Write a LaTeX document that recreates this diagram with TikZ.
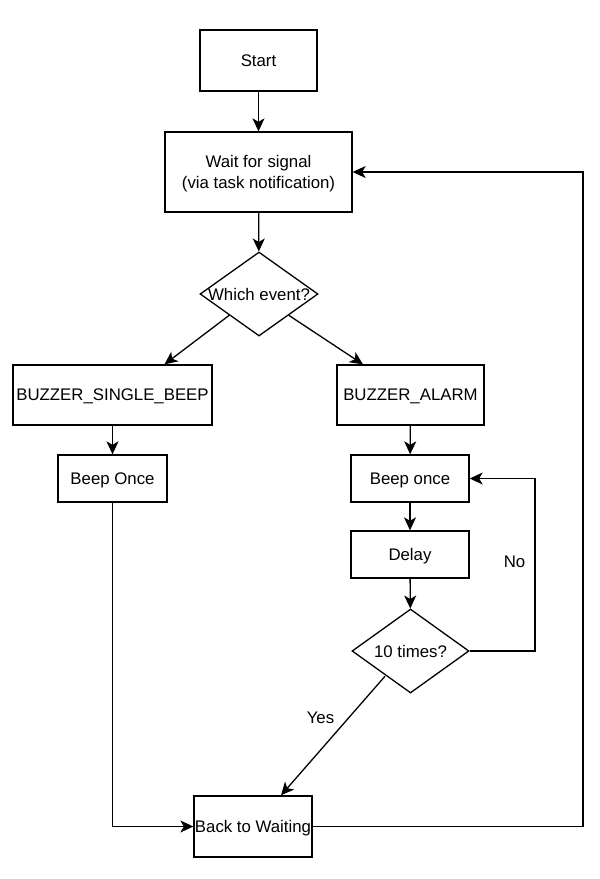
\documentclass[tikz,border=0pt]{standalone}
\usepackage{fontspec}
\setmainfont{Liberation Sans}
\usetikzlibrary{arrows.meta}
\usetikzlibrary{positioning}
\usetikzlibrary{shapes.geometric}
\tikzset {
  flow path/.style = {
    draw = black,
    line width = 1.3pt
  },
  % path style with an arrow at the end
  arr/.style = {
    flow path,
    -{Stealth[length = 13pt, width = 12pt, inset = 3.5pt]}
  },
  % path style with no arrows
  narr/.style = {
    flow path
  }
}
\tikzset {
  flow node/.style = {
    draw = black,
    line width = 1.3pt,
    inner sep = 0,
    align = center,
    text depth = 0pt,
    font = \fontsize{16.8}{21}\selectfont
  },
  % process box
  proc/.style = {
    flow node,
    rectangle
  },
  % decision, the text is put on as a centred label
  decision/.style = {
    flow node,
    diamond,
    minimum width = 118pt,
    minimum height = 84pt
  },
  % edge label
  lbl/.style = {
    text depth = 0pt,
    font = \fontsize{16.8}{21}\selectfont
  }
}

\begin{document}
\begin{tikzpicture}[x = 1pt, y = -1pt]
    \useasboundingbox (0,0) rectangle (600,879);

    \node[proc, minimum width = 117pt, minimum height = 61pt] (start) at (258.5,60.5) {Start};
    \node[proc, minimum width = 187pt, minimum height = 80pt] (wait) at (258.5,172) {Wait for signal\\(via task notification)};
    \node[decision, label = {[lbl]center:Which event?}] (event) at (259,294) {};
    \node[proc, minimum width = 199pt, minimum height = 60pt] (single) at (112.5,395) {BUZZER\_SINGLE\_BEEP};
    \node[proc, minimum width = 147pt, minimum height = 60pt] (alarm) at (410.5,395) {BUZZER\_ALARM};
    \node[proc, minimum width = 109pt, minimum height = 47pt] (once-l) at (112.5,478.5) {Beep Once};
    \node[proc, minimum width = 118pt, minimum height = 47pt] (once-r) at (410,478.5) {Beep once};
    \node[proc, minimum width = 118pt, minimum height = 47pt] (delay) at (410,554.5) {Delay};
    \node[decision, minimum width = 117pt, label = {[lbl]center:10 times?}] (times) at (410.5,651) {};
    \node[proc, minimum width = 118pt, minimum height = 61pt] (back) at (253,826.5) {Back to Waiting};
    \coordinate (no-turn) at (535,560);
    \coordinate (back-turn) at (583,500);
    \node[lbl] (no) at (514.5,562) {No};
    \node[lbl] (yes) at (320.5,718) {Yes};

    \draw[arr] (start) -- (wait);
    \draw[arr] (wait) -- (event);
    \draw[arr] (event.south west) -- ([xshift = 52pt]single.north);
    \draw[arr] (event.south east) -- ([xshift = -47.5pt]alarm.north);
    \draw[arr] (single) -- (once-l);
    \draw[arr] (alarm) -- (once-r);
    \draw[arr] (once-r) -- (delay);
    \draw[arr] (delay) -- (times);
    \draw[arr] (times.east) -| (no-turn) |- (once-r.east);
    \draw[arr] ([xshift = 4pt, yshift = -4pt]times.south west) -- ([xshift = 28pt]back.north);
    \draw[arr] (once-l) |- (back.west);
    \draw[arr] (back.east) -| (back-turn) |- (wait.east);
  \end{tikzpicture}
\end{document}
